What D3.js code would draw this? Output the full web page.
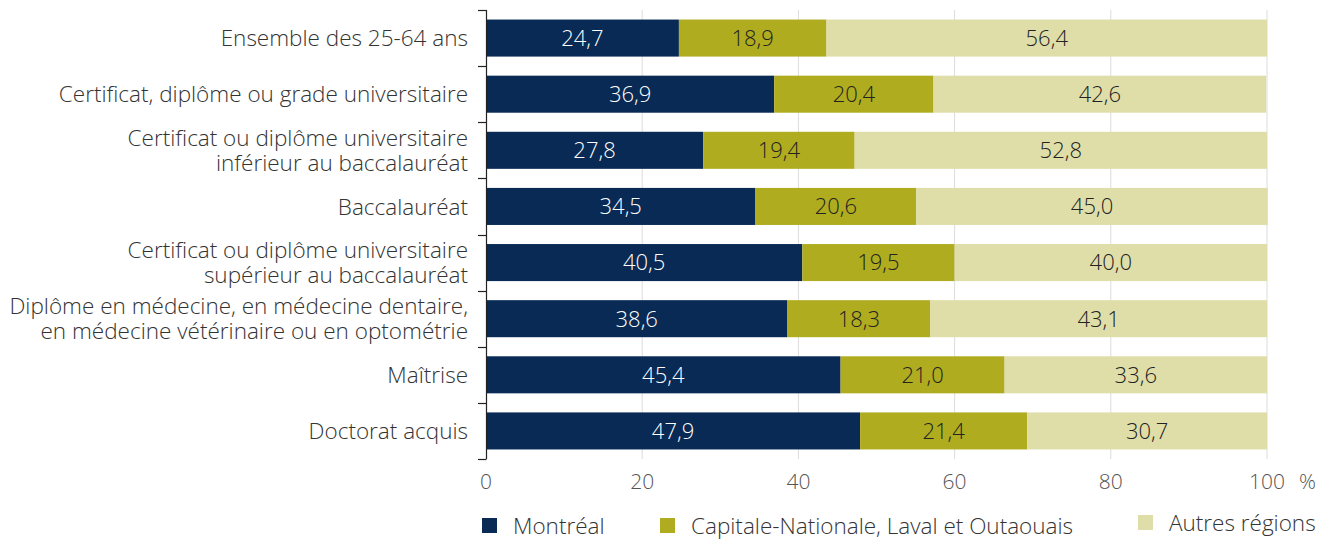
<!DOCTYPE html>
<html>
<head>
<meta charset="utf-8">
<script src="https://cdn.jsdelivr.net/npm/d3@7"></script>
<style>
  body { margin: 0; background: #fff; }
  text { font-family: "Open Sans", sans-serif; font-weight: 300; }
</style>
</head>
<body>
<div id="chart"></div>
<script>
// data
var categories = [
  ["Ensemble des 25-64 ans"],
  ["Certificat, diplôme ou grade universitaire"],
  ["Certificat ou diplôme universitaire", "inférieur au baccalauréat"],
  ["Baccalauréat"],
  ["Certificat ou diplôme universitaire", "supérieur au baccalauréat"],
  ["Diplôme en médecine, en médecine dentaire,", "en médecine vétérinaire ou en optométrie"],
  ["Maîtrise"],
  ["Doctorat acquis"]
];
var montreal  = [24.7, 36.9, 27.8, 34.5, 40.5, 38.6, 45.4, 47.9];
var capitale  = [18.9, 20.4, 19.4, 20.6, 19.5, 18.3, 21.0, 21.4];
var autres    = [56.4, 42.6, 52.8, 45.0, 40.0, 43.1, 33.6, 30.7];
var seriesNames = ["Montréal", "Capitale-Nationale, Laval et Outaouais", "Autres régions"];
var xTicks = [0, 20, 40, 60, 80, 100];

var colors = ["#082a54", "#afac20", "#dfdea8"];
var textColors = ["#ffffff", "#222222", "#222222"];

var width = 1328, height = 540;

var svg = d3.select("#chart")
  .append("svg")
    .attr("width", width)
    .attr("height", height);

var x = d3.scaleLinear()
  .domain([0, 100])
  .range([486, 1267]);

var y = d3.scaleBand()
  .domain(d3.range(categories.length))
  .range([10, 459])
  .paddingInner(0.34)
  .paddingOuter(0.17);

var step = y.step();

// gridlines
svg.append("g")
  .selectAll("line")
  .data(xTicks.slice(1))
  .enter().append("line")
    .attr("x1", function(d) { return x(d); })
    .attr("x2", function(d) { return x(d); })
    .attr("y1", 10)
    .attr("y2", 459)
    .attr("stroke", "#dcdcdc")
    .attr("stroke-width", 1);

// stacked data
var rows = categories.map(function(c, i) {
  return {i: i, vals: [montreal[i], capitale[i], autres[i]]};
});

rows.forEach(function(r) {
  var start = 0;
  r.vals.forEach(function(v, k) {
    var g = svg.append("g");
    g.append("rect")
      .attr("x", x(start))
      .attr("y", y(r.i))
      .attr("width", x(start + v) - x(start))
      .attr("height", y.bandwidth())
      .attr("fill", colors[k]);
    g.append("text")
      .attr("x", (x(start) + x(start + v)) / 2)
      .attr("y", y(r.i) + y.bandwidth() / 2)
      .attr("dy", "0.36em")
      .attr("text-anchor", "middle")
      .attr("font-size", 22)
      .attr("fill", textColors[k])
      .text(d3.format(".1f")(v).replace(".", ","));
    start += v;
  });
});

// y axis line + ticks at band boundaries
svg.append("line")
  .attr("x1", x(0) + 0.5).attr("x2", x(0) + 0.5)
  .attr("y1", 10).attr("y2", 459)
  .attr("stroke", "#222").attr("stroke-width", 1.2);

var bounds = d3.range(categories.length + 1).map(function(i) { return 10 + i * step; });
svg.append("g")
  .selectAll("line")
  .data(bounds)
  .enter().append("line")
    .attr("x1", x(0) - 8)
    .attr("x2", x(0) + 0.5)
    .attr("y1", function(d) { return Math.round(d) + 0.5; })
    .attr("y2", function(d) { return Math.round(d) + 0.5; })
    .attr("stroke", "#222")
    .attr("stroke-width", 1.2);

// category labels
categories.forEach(function(lines, i) {
  var cy = y(i) + y.bandwidth() / 2;
  var lh = 25;
  var t = svg.append("text")
    .attr("text-anchor", "end")
    .attr("font-size", 22.5)
    .attr("fill", "#333");
  lines.forEach(function(l, j) {
    t.append("tspan")
      .attr("x", 468)
      .attr("y", cy + (j - (lines.length - 1) / 2) * lh)
      .attr("dy", "0.36em")
      .text(l);
  });
});

// x tick labels
svg.append("g")
  .selectAll("text")
  .data(xTicks)
  .enter().append("text")
    .attr("x", function(d) { return x(d); })
    .attr("y", 489)
    .attr("text-anchor", "middle")
    .attr("font-size", 21)
    .attr("fill", "#555")
    .text(function(d) { return d; });

svg.append("text")
  .attr("x", 1299)
  .attr("y", 489)
  .attr("font-size", 21)
  .attr("fill", "#555")
  .text("%");

// legend
var legendX = [482, 660, 1138];
var legendY = [518, 518, 515];
seriesNames.forEach(function(name, k) {
  svg.append("rect")
    .attr("x", legendX[k])
    .attr("y", legendY[k])
    .attr("width", 15)
    .attr("height", 15)
    .attr("fill", colors[k]);
  svg.append("text")
    .attr("x", legendX[k] + 31)
    .attr("y", legendY[k] + 8)
    .attr("dy", "0.36em")
    .attr("font-size", 22.5)
    .attr("fill", "#333")
    .text(name);
});
</script>
</body>
</html>
